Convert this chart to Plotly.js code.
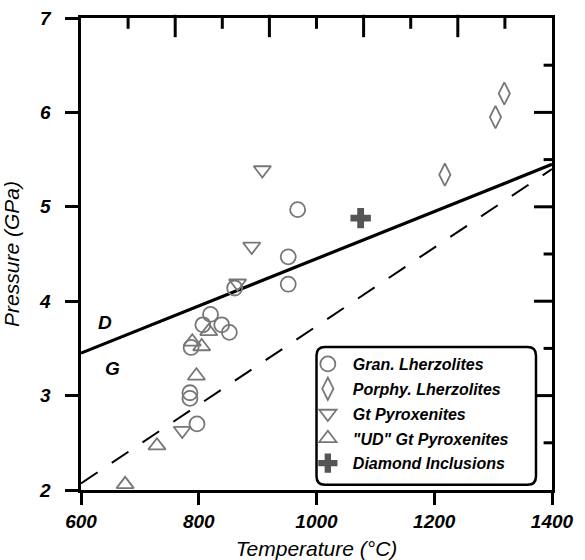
<!DOCTYPE html>
<html><head><meta charset="utf-8">
<script src="https://cdn.plot.ly/plotly-3.0.1.min.js"></script>
<style>html,body{margin:0;padding:0;background:#fff;}#chart{width:585px;height:560px;}</style>
</head><body><div id="chart"></div>
<script>
// Data (Temperature °C, Pressure GPa)
const granT = [968, 952, 952, 861, 820, 807, 839, 852, 787, 785, 785, 797];
const granP = [4.97, 4.47, 4.18, 4.14, 3.86, 3.75, 3.75, 3.67, 3.51, 3.03, 2.97, 2.70];
const porphT = [1218, 1304, 1319];
const porphP = [5.34, 5.95, 6.20];
const gtpxT = [908, 890, 866, 772];
const gtpxP = [5.39, 4.58, 4.19, 2.63];
const udT = [817, 805, 789, 796, 729, 675];
const udP = [3.68, 3.52, 3.57, 3.21, 2.47, 2.06];
const diaT = [1075];
const diaP = [4.88];
// Graphite–diamond boundary (solid) and dashed line endpoints
const dLineT = [600, 1400];
const dLineP = [3.45, 5.45];
const gLineT = [600, 1400];
const gLineP = [2.07, 5.40];
// Tick positions
const xMajor = [600, 800, 1000, 1200, 1400];
const xMinor = [700, 900, 1100, 1300];
const topMajor = [760, 920, 1080, 1240];
const topMinor = [680, 840, 1000, 1160, 1320];
const yMajor = [2, 3, 4, 5, 6, 7];
const yMinor = [2.5, 3.5, 4.5, 5.5, 6.5];
const rightMajor = [3, 4, 5, 6];
const rightMinor = [2.5, 3.5, 4.5, 5.5, 6.5];

const W = 585, H = 560, M = {l: 81, r: 33, t: 18, b: 70};
const xR = [600, 1400], yR = [2, 7];
const dxPerPx = (xR[1] - xR[0]) / (W - M.l - M.r);
const dyPerPx = (yR[1] - yR[0]) / (H - M.t - M.b);

const FONT = 'Liberation Sans, Arial, sans-serif';
const gray = '#777777';
const mk = (sym, size) => ({symbol: sym, size: size, color: gray, line: {color: gray, width: 1.8}});

// tick marks drawn as line markers (not clipped), offset so they sit outside / inside the frame
const tickTrace = (xs, ys, sym, len) => ({x: xs, y: ys, mode: 'markers', cliponaxis: false, showlegend: false, hoverinfo: 'skip',
  marker: {symbol: sym, size: len, color: '#000', line: {color: '#000', width: 3}}});
const ticks = [
  tickTrace(xMajor, xMajor.map(() => yR[0] - 6 * dyPerPx), 'line-ns-open', 12),
  tickTrace(xMinor, xMinor.map(() => yR[0] - 4 * dyPerPx), 'line-ns-open', 8),
  tickTrace(topMajor, topMajor.map(() => yR[1] - 8 * dyPerPx), 'line-ns-open', 16),
  tickTrace(topMinor, topMinor.map(() => yR[1] - 4.5 * dyPerPx), 'line-ns-open', 9),
  tickTrace(yMajor.map(() => xR[0] - 6.5 * dxPerPx), yMajor, 'line-ew-open', 13),
  tickTrace(yMinor.map(() => xR[0] - 4 * dxPerPx), yMinor, 'line-ew-open', 8),
  tickTrace(rightMajor.map(() => xR[1] - 7.5 * dxPerPx), rightMajor, 'line-ew-open', 15),
  tickTrace(rightMinor.map(() => xR[1] - 3.5 * dxPerPx), rightMinor, 'line-ew-open', 7)
];

const traces = [
  {x: dLineT, y: dLineP, mode: 'lines', line: {color: '#000', width: 3.2}, showlegend: false, hoverinfo: 'skip'},
  {x: gLineT, y: gLineP, mode: 'lines', line: {color: '#000', width: 2, dash: '20px,17px'}, showlegend: false, hoverinfo: 'skip'},
  {x: granT, y: granP, mode: 'markers', name: 'Gran. Lherzolites', marker: mk('circle-open', 15), legendgroup: 'a'},
  {x: porphT, y: porphP, mode: 'markers', name: 'Porphy. Lherzolites', marker: mk('diamond-tall-open', 16), legendgroup: 'b'},
  {x: gtpxT, y: gtpxP, mode: 'markers', name: 'Gt Pyroxenites', marker: mk('triangle-down-open', 15), legendgroup: 'c'},
  {x: udT, y: udP, mode: 'markers', name: '"UD" Gt Pyroxenites', marker: mk('triangle-up-open', 15), legendgroup: 'd'},
  {x: diaT, y: diaP, mode: 'markers', name: 'Diamond Inclusions', marker: {symbol: 'cross', size: 17, color: '#555', line: {width: 0}}, legendgroup: 'e'},
  ...ticks
];

const tickFont = {family: FONT, size: 19, color: '#000', weight: 'bold', style: 'italic'};
const titleFont = {family: FONT, size: 21, color: '#000', style: 'italic'};

const r = 0.018;
const lx0 = 0.50, lx1 = 0.966, ly0 = 0.011, ly1 = 0.303;
const rr = `M ${lx0+r},${ly1} L ${lx1-r},${ly1} Q ${lx1},${ly1} ${lx1},${ly1-r} L ${lx1},${ly0+r} Q ${lx1},${ly0} ${lx1-r},${ly0} L ${lx0+r},${ly0} Q ${lx0},${ly0} ${lx0},${ly0+r} L ${lx0},${ly1-r} Q ${lx0},${ly1} ${lx0+r},${ly1} Z`;

const layout = {
  width: W, height: H,
  margin: M,
  paper_bgcolor: '#fff', plot_bgcolor: '#fff',
  showlegend: true,
  legend: {x: 0.471, y: 0.303, xanchor: 'left', yanchor: 'top', bgcolor: 'rgba(0,0,0,0)', borderwidth: 0,
    font: {family: FONT, size: 16, color: '#000', weight: 'bold', style: 'italic'},
    tracegroupgap: 1, itemsizing: 'trace', itemwidth: 40},
  xaxis: {type: 'linear', range: xR, tick0: 600, dtick: 200, showgrid: false, zeroline: false,
    showline: true, mirror: true, linecolor: '#000', linewidth: 3, ticks: 'outside', ticklen: 12, tickwidth: 3, tickcolor: '#000',
    tickfont: tickFont, title: {text: 'Temperature (°C)', font: titleFont, standoff: 11}},
  yaxis: {type: 'linear', range: yR, tick0: 2, dtick: 1, showgrid: false, zeroline: false,
    showline: true, mirror: true, linecolor: '#000', linewidth: 3, ticks: 'outside', ticklen: 13, tickwidth: 3, tickcolor: '#000',
    ticksuffix: '\u00a0\u00a0',
    tickfont: tickFont, title: {text: 'Pressure (GPa)', font: titleFont, standoff: 14}},
  shapes: [
    {type: 'path', xref: 'paper', yref: 'paper', path: rr, line: {color: '#000', width: 2.5}, fillcolor: '#fff', layer: 'above'}
  ],
  annotations: [
    {x: 641, y: 3.77, xref: 'x', yref: 'y', text: 'D', showarrow: false, font: {family: FONT, size: 19, color: '#000', weight: 'bold', style: 'italic'}},
    {x: 653, y: 3.29, xref: 'x', yref: 'y', text: 'G', showarrow: false, font: {family: FONT, size: 19, color: '#000', weight: 'bold', style: 'italic'}}
  ]
};

Plotly.newPlot('chart', traces, layout, {displayModeBar: false, staticPlot: true});
</script></body></html>
